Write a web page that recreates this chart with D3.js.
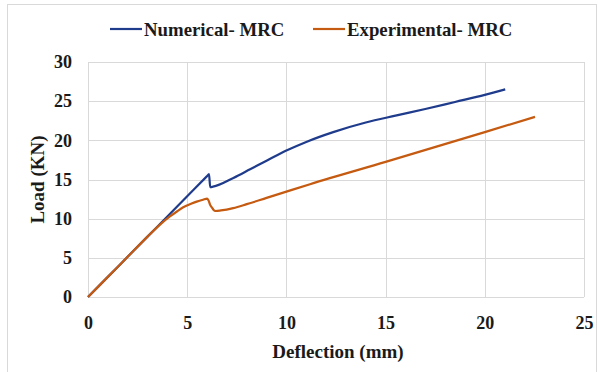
<!DOCTYPE html>
<html>
<head>
<meta charset="utf-8">
<script src="https://cdn.jsdelivr.net/npm/d3@7"></script>
<style>
  body { margin: 0; background: #fff; }
  text { font-family: "Liberation Serif", "Times New Roman", serif; font-weight: bold; fill: #1a1a1a; }
</style>
</head>
<body>
<script>
// chart data
var xTicks = [0, 5, 10, 15, 20, 25]
var yTicks = [0, 5, 10, 15, 20, 25, 30]
var seriesNames = ['Numerical- MRC', 'Experimental- MRC']
var seriesColors = ['#1f3b8c', '#c55a11']

// Numerical- MRC (deflection mm, load KN)
var numX = [0, 1, 2, 3, 4, 5, 6, 6.1, 6.16, 6.3, 7.33, 8.17, 9, 10, 11, 12.36, 14, 15.5, 17, 18.5, 20, 21.03]
var numY = [0, 2.57, 5.14, 7.71, 10.28, 12.86, 15.43, 15.69, 14.03, 14.08, 15.2, 16.3, 17.4, 18.7, 19.8, 21.05, 22.27, 23.15, 24.0, 24.9, 25.8, 26.5]

// Experimental- MRC
var expX = [0, 1, 2, 3, 3.4, 3.7, 4.13, 4.5, 4.8, 5.2, 5.48, 5.8, 6.01, 6.08, 6.15, 6.25, 6.32, 6.43, 6.7, 7.32, 8, 9, 10, 11.19, 15, 20, 22.53]
var expY = [0, 2.57, 5.14, 7.71, 8.7, 9.4, 10.28, 10.95, 11.45, 11.9, 12.18, 12.42, 12.55, 12.3, 11.8, 11.4, 11.15, 10.98, 11.05, 11.35, 11.85, 12.65, 13.45, 14.4, 17.25, 21.05, 23.0]

var w = 598, h = 372
var margin = {left: 88, right: 14, top: 62, bottom: 75}

var svg = d3.select('body').append('svg')
    .attr('width', w)
    .attr('height', h)

// outer chart frame
svg.append('rect')
    .attr('x', 7.5).attr('y', 4.5)
    .attr('width', 589).attr('height', 380)
    .attr('fill', 'none')
    .attr('stroke', '#d9d9d9')

var x = d3.scaleLinear().domain([0, 25]).range([margin.left, w - margin.right])
var y = d3.scaleLinear().domain([0, 30]).range([h - margin.bottom, margin.top])

// gridlines
svg.append('g')
    .selectAll('line.v')
    .data(xTicks)
    .enter().append('line')
    .attr('x1', function(d) { return Math.round(x(d)) + 0.5 })
    .attr('x2', function(d) { return Math.round(x(d)) + 0.5 })
    .attr('y1', y(0)).attr('y2', y(30))
    .attr('stroke', '#d9d9d9')

svg.append('g')
    .selectAll('line.h')
    .data(yTicks)
    .enter().append('line')
    .attr('y1', function(d) { return Math.round(y(d)) + 0.5 })
    .attr('y2', function(d) { return Math.round(y(d)) + 0.5 })
    .attr('x1', x(0)).attr('x2', x(25))
    .attr('stroke', '#d9d9d9')

// axes (labels only, lines come from the grid)
var xAxis = svg.append('g')
    .attr('transform', 'translate(0,' + y(0) + ')')
    .call(d3.axisBottom(x).tickValues(xTicks).tickSize(0).tickPadding(19))
xAxis.select('.domain').remove()
xAxis.selectAll('text').style('font-size', '18px').attr('fill', '#1a1a1a')

var yAxis = svg.append('g')
    .attr('transform', 'translate(' + x(0) + ',0)')
    .call(d3.axisLeft(y).tickValues(yTicks).tickSize(0).tickPadding(16))
yAxis.select('.domain').remove()
yAxis.selectAll('text').style('font-size', '18px').attr('fill', '#1a1a1a')

// axis titles
svg.append('text')
    .attr('x', 338)
    .attr('y', 358)
    .attr('text-anchor', 'middle')
    .style('font-size', '19px')
    .text('Deflection (mm)')

svg.append('text')
    .attr('transform', 'translate(44,' + ((y(0) + y(30)) / 2) + ') rotate(-90)')
    .attr('text-anchor', 'middle')
    .style('font-size', '19px')
    .text('Load (KN)')

// series lines
var line = d3.line()
    .x(function(d) { return x(d[0]) })
    .y(function(d) { return y(d[1]) })
    .curve(d3.curveMonotoneX)

var series = [d3.zip(numX, numY), d3.zip(expX, expY)]

svg.selectAll('path.series')
    .data(series)
    .enter().append('path')
    .attr('class', 'series')
    .attr('d', line)
    .attr('fill', 'none')
    .attr('stroke', function(d, i) { return seriesColors[i] })
    .attr('stroke-width', 2.2)
    .attr('stroke-linejoin', 'round')

// legend
var legendX = [110, 313]
var lg = svg.selectAll('g.legend')
    .data(seriesNames)
    .enter().append('g')
    .attr('class', 'legend')
    .attr('transform', function(d, i) { return 'translate(' + legendX[i] + ',29)' })

lg.append('line')
    .attr('x1', 0).attr('x2', 32)
    .attr('stroke', function(d, i) { return seriesColors[i] })
    .attr('stroke-width', 2.2)

lg.append('text')
    .attr('x', 34)
    .attr('y', 6.5)
    .style('font-size', '18.8px')
    .text(function(d) { return d })
</script>
</body>
</html>
